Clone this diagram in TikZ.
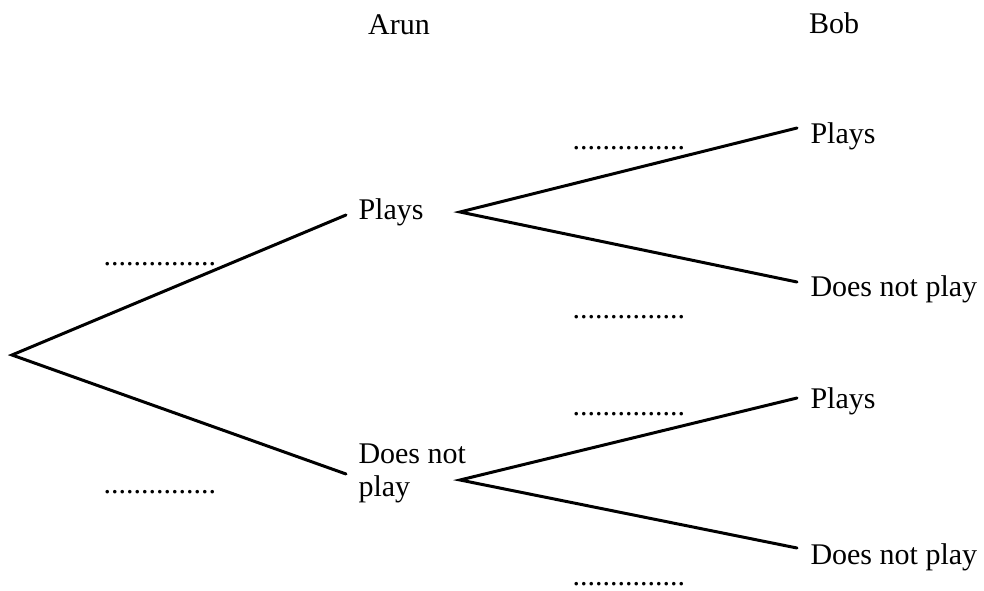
\documentclass[tikz,border=0pt]{standalone}
\usepackage{fontspec}
\setmainfont{Liberation Serif}
\begin{document}
\begin{tikzpicture}[x=0.4pt, y=-0.4pt,
    branch/.style={line width=1.2pt, line cap=round},
    lbl/.style={inner sep=0pt, anchor=base west, font=\fontsize{12}{13.2}\selectfont},
    dots/.style={inner sep=0pt, anchor=base west, font=\fontsize{12}{13.2}\selectfont},
    head/.style={inner sep=0pt, anchor=base, font=\fontsize{12}{13.2}\selectfont}
]
\useasboundingbox (0,0) rectangle (984,591);
\node[head] (arun) at (399, 35) {Arun};
\node[head] (bob) at (834, 34) {Bob};

\coordinate (root) at (12, 355);
\coordinate (aplaysin) at (346, 215);
\coordinate (aplaysout) at (460, 212);
\coordinate (anotin) at (346, 474);
\coordinate (anotout) at (460, 480);
\coordinate (bplaysa) at (797, 128);
\coordinate (bnota) at (797, 282);
\coordinate (bplaysb) at (797, 398);
\coordinate (bnotb) at (797, 548);

\node[lbl] (aplays) at (358, 220) {Plays};
\node[lbl, anchor=west, align=left] (anot) at (358, 473) {Does not\\play};
\node[lbl] (bplaysatxt) at (810, 144) {Plays};
\node[lbl] (bnotatxt) at (810, 297) {Does not play};
\node[lbl] (bplaysbtxt) at (810, 408) {Plays};
\node[lbl] (bnotbtxt) at (810, 564) {Does not play};

\node[dots] (pa) at (103, 266) {...............};
\node[dots] (pb) at (103, 493) {...............};
\node[dots] (pc) at (572, 150) {...............};
\node[dots] (pd) at (572, 319) {...............};
\node[dots] (pe) at (572, 415) {...............};
\node[dots] (pf) at (572, 585) {...............};

\draw[branch] (aplaysin) -- (root) -- (anotin);
\draw[branch] (bplaysa) -- (aplaysout) -- (bnota);
\draw[branch] (bplaysb) -- (anotout) -- (bnotb);
\end{tikzpicture}
\end{document}
